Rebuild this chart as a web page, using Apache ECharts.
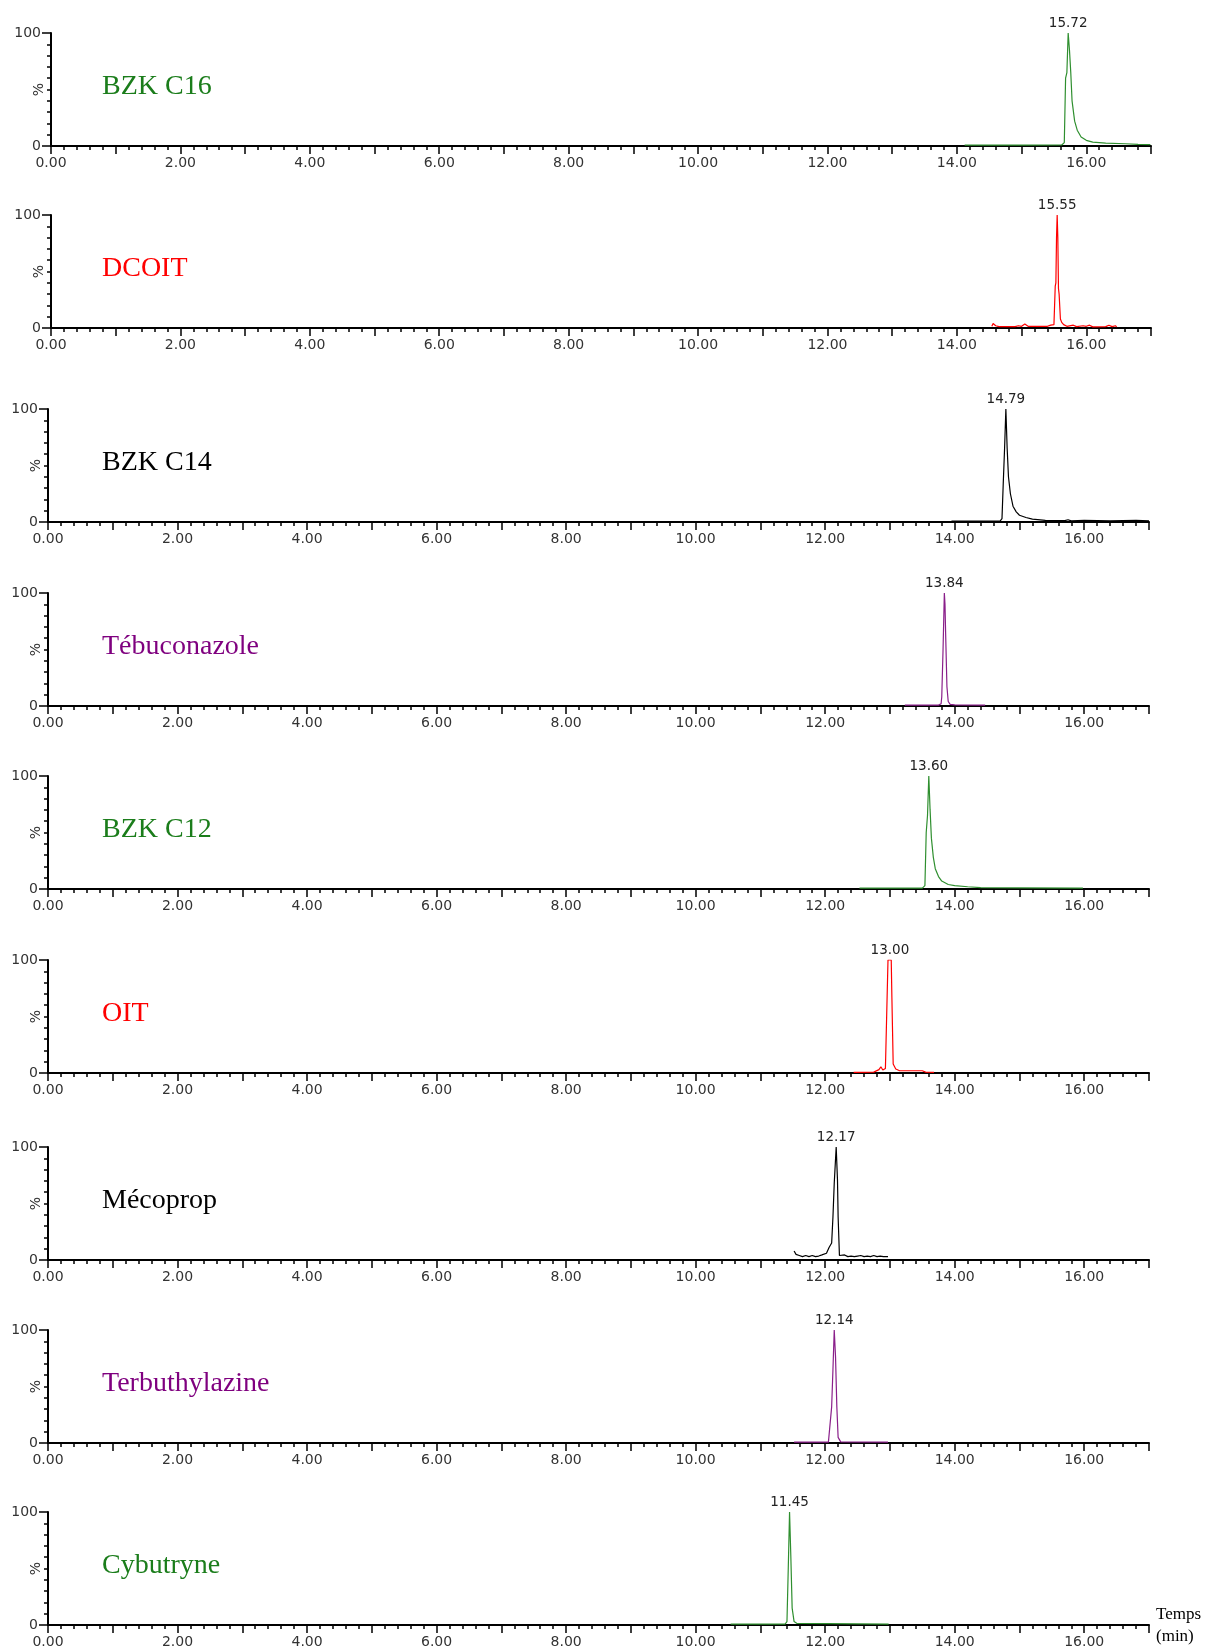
<!DOCTYPE html>
<html><head><meta charset="utf-8">
<script src="https://cdn.jsdelivr.net/npm/echarts@6/dist/echarts.min.js"></script>
<style>html,body{margin:0;padding:0;background:#fff}#c{width:1206px;height:1652px}</style>
</head><body><div id="c"></div>
<script>
// ---------- DATA ----------
const compounds = ['BZK C16','DCOIT','BZK C14','Tébuconazole','BZK C12','OIT','Mécoprop','Terbuthylazine','Cybutryne'];
const peakTimes = [15.72, 15.55, 14.79, 13.84, 13.60, 13.00, 12.17, 12.14, 11.45];
const xRange = [0, 17];
const yRange = [0, 100];

const traceBZKC16 = [[14.12,0.8],[15.0,0.8],[15.62,0.9],[15.66,3],[15.68,60],[15.70,65],[15.72,100],[15.74,85],[15.76,65],[15.78,40],[15.82,22],[15.86,14],[15.92,8],[16.0,5],[16.1,3.5],[16.3,2.5],[16.6,2],[16.8,1.5],[16.99,1.2]];
const traceDCOIT = [[14.54,1.5],[14.56,4],[14.6,2],[14.65,1.2],[14.9,1.2],[14.95,2],[15.0,1.5],[15.05,3.5],[15.1,1.5],[15.4,1.5],[15.45,2.5],[15.5,3],[15.52,37],[15.53,40],[15.54,80],[15.55,100],[15.56,80],[15.57,35],[15.58,30],[15.6,8],[15.62,5],[15.65,3],[15.7,1.5],[15.8,2.5],[15.85,1.2],[15.95,2],[16.0,1.5],[16.05,2.5],[16.1,1],[16.3,1.2],[16.35,2.5],[16.4,1.2],[16.45,2],[16.47,1]];
const traceBZKC14 = [[13.95,0.8],[14.7,0.8],[14.73,3],[14.75,35],[14.77,65],[14.79,100],[14.81,65],[14.83,40],[14.86,25],[14.9,14],[14.95,9],[15.0,6],[15.1,4],[15.2,2.5],[15.4,1.5],[15.7,1.2],[15.75,2],[15.8,1],[16.0,1.5],[16.4,1],[16.8,1.5],[17.0,1]];
const traceTebuconazole = [[13.23,0.8],[13.75,0.8],[13.79,2],[13.8,8],[13.82,50],[13.84,100],[13.85,90],[13.86,64],[13.88,17],[13.9,4],[13.93,1.5],[14.0,1],[14.47,0.8]];
const traceBZKC12 = [[12.53,0.8],[13.5,0.8],[13.54,3],[13.56,50],[13.58,65],[13.6,100],[13.62,70],[13.64,45],[13.67,28],[13.7,18],[13.75,11],[13.8,7],[13.9,4],[14.0,3],[14.2,2],[14.4,1.2],[15.0,1],[15.98,0.8]];
const traceOIT = [[12.44,0.6],[12.75,0.8],[12.83,3],[12.86,5.5],[12.89,2.6],[12.93,4],[12.95,52],[12.97,100],[13.02,100],[13.03,67],[13.05,8],[13.09,3.5],[13.15,2],[13.5,2],[13.55,0.8],[13.68,0.6]];
const traceMecoprop = [[11.52,8],[11.55,5],[11.6,4],[11.65,3],[11.7,4],[11.75,3],[11.8,4],[11.85,3],[11.9,3.5],[11.95,4.5],[11.98,3],[12.02,6],[12.06,11],[12.1,15],[12.12,38],[12.14,68],[12.17,100],[12.19,71],[12.2,38],[12.22,4],[12.25,3],[12.3,4.5],[12.35,3],[12.4,3.5],[12.45,3],[12.5,3.5],[12.55,4],[12.6,3],[12.65,3.5],[12.7,3],[12.75,4],[12.8,3],[12.85,3.5],[12.9,3],[12.97,3]];
const traceTerbuthylazine = [[11.52,0.8],[12.05,0.8],[12.08,2],[12.1,32],[12.12,65],[12.14,100],[12.16,76],[12.18,32],[12.2,5],[12.24,1],[12.97,0.8]];
const traceCybutryne = [[10.54,0.8],[11.38,0.8],[11.41,3],[11.43,50],[11.45,100],[11.47,60],[11.49,15],[11.52,3],[11.56,1.5],[12.98,0.8]];

const traces = [traceBZKC16, traceDCOIT, traceBZKC14, traceTebuconazole, traceBZKC12, traceOIT, traceMecoprop, traceTerbuthylazine, traceCybutryne];

// ---------- STYLE / LAYOUT ----------
const lineColors = ['#2f8f2f','#ff0000','#000000','#8a1f8a','#2f8f2f','#ff0000','#000000','#8a1f8a','#2f8f2f'];
const nameColors = ['#1b7d1b','#ff0000','#000000','#7f007f','#1b7d1b','#ff0000','#000000','#7f007f','#1b7d1b'];
const panelTops = [33,215,409,593,776,960,1147,1330,1512];
const panelLefts = [51,51,48,48,48,48,48,48,48];
const panelWidths = [1100,1100,1101,1101,1101,1101,1101,1101,1101];
const panelH = 113;
const sans = 'DejaVu Sans';

const grids = [], xAxes = [], yAxes = [], series = [], graphics = [];
traces.forEach((tr, i) => {
  grids.push({left: panelLefts[i], top: panelTops[i], width: panelWidths[i], height: panelH,
    containLabel: false, outerBoundsMode: 'none'});
  xAxes.push({
    type: 'value', gridIndex: i, min: xRange[0], max: xRange[1], interval: 1,
    axisLine: {show: true, onZero: false, lineStyle: {color: '#000', width: 2}},
    axisTick: {show: true, length: 8, lineStyle: {color: '#000', width: 1.5}},
    minorTick: {show: true, splitNumber: 5, length: 4, lineStyle: {color: '#000', width: 1.5}},
    splitLine: {show: false},
    axisLabel: {margin: 10, color: '#333', fontFamily: sans, fontSize: 14, hideOverlap: false,
      formatter: v => (Math.round(v) % 2 === 0 ? v.toFixed(2) : ''), showMaxLabel: true}
  });
  yAxes.push({
    type: 'value', gridIndex: i, min: yRange[0], max: yRange[1], interval: 100,
    name: '%', nameLocation: 'middle', nameGap: 5, nameRotate: 90, nameMoveOverlap: false,
    nameTextStyle: {color: '#333', fontFamily: sans, fontSize: 14},
    axisLine: {show: true, onZero: false, lineStyle: {color: '#000', width: 2}},
    axisTick: {show: true, length: 9, lineStyle: {color: '#000', width: 1.5}},
    minorTick: {show: true, splitNumber: 10, length: 4, lineStyle: {color: '#000', width: 1.5}},
    splitLine: {show: false},
    axisLabel: {margin: 10, color: '#333', fontFamily: sans, fontSize: 14}
  });
  series.push({
    type: 'line', xAxisIndex: i, yAxisIndex: i, data: tr, showSymbol: false,
    lineStyle: {color: lineColors[i], width: 1.2}, silent: true, z: 3,
    markPoint: {
      symbol: 'circle', symbolSize: 0, silent: true,
      label: {show: true, position: 'top', distance: 3, color: '#222', fontFamily: sans, fontSize: 13.5,
        formatter: p => p.value},
      data: [{coord: [peakTimes[i], yRange[1]], value: peakTimes[i].toFixed(2)}]
    }
  });
  graphics.push({
    type: 'text', left: 102, top: panelTops[i] + panelH / 2 - 17,
    style: {text: compounds[i], fill: nameColors[i], font: '28px "Liberation Serif"'}
  });
});
graphics.push({
  type: 'text', left: 1156, top: 1604,
  style: {text: 'Temps\n(min)', fill: '#000', font: '17px "Liberation Serif"', lineHeight: 22}
});

const chart = echarts.init(document.getElementById('c'), null, {renderer: 'canvas'});
chart.setOption({
  animation: false,
  backgroundColor: '#fff',
  grid: grids, xAxis: xAxes, yAxis: yAxes, series: series, graphic: graphics
});
</script></body></html>
